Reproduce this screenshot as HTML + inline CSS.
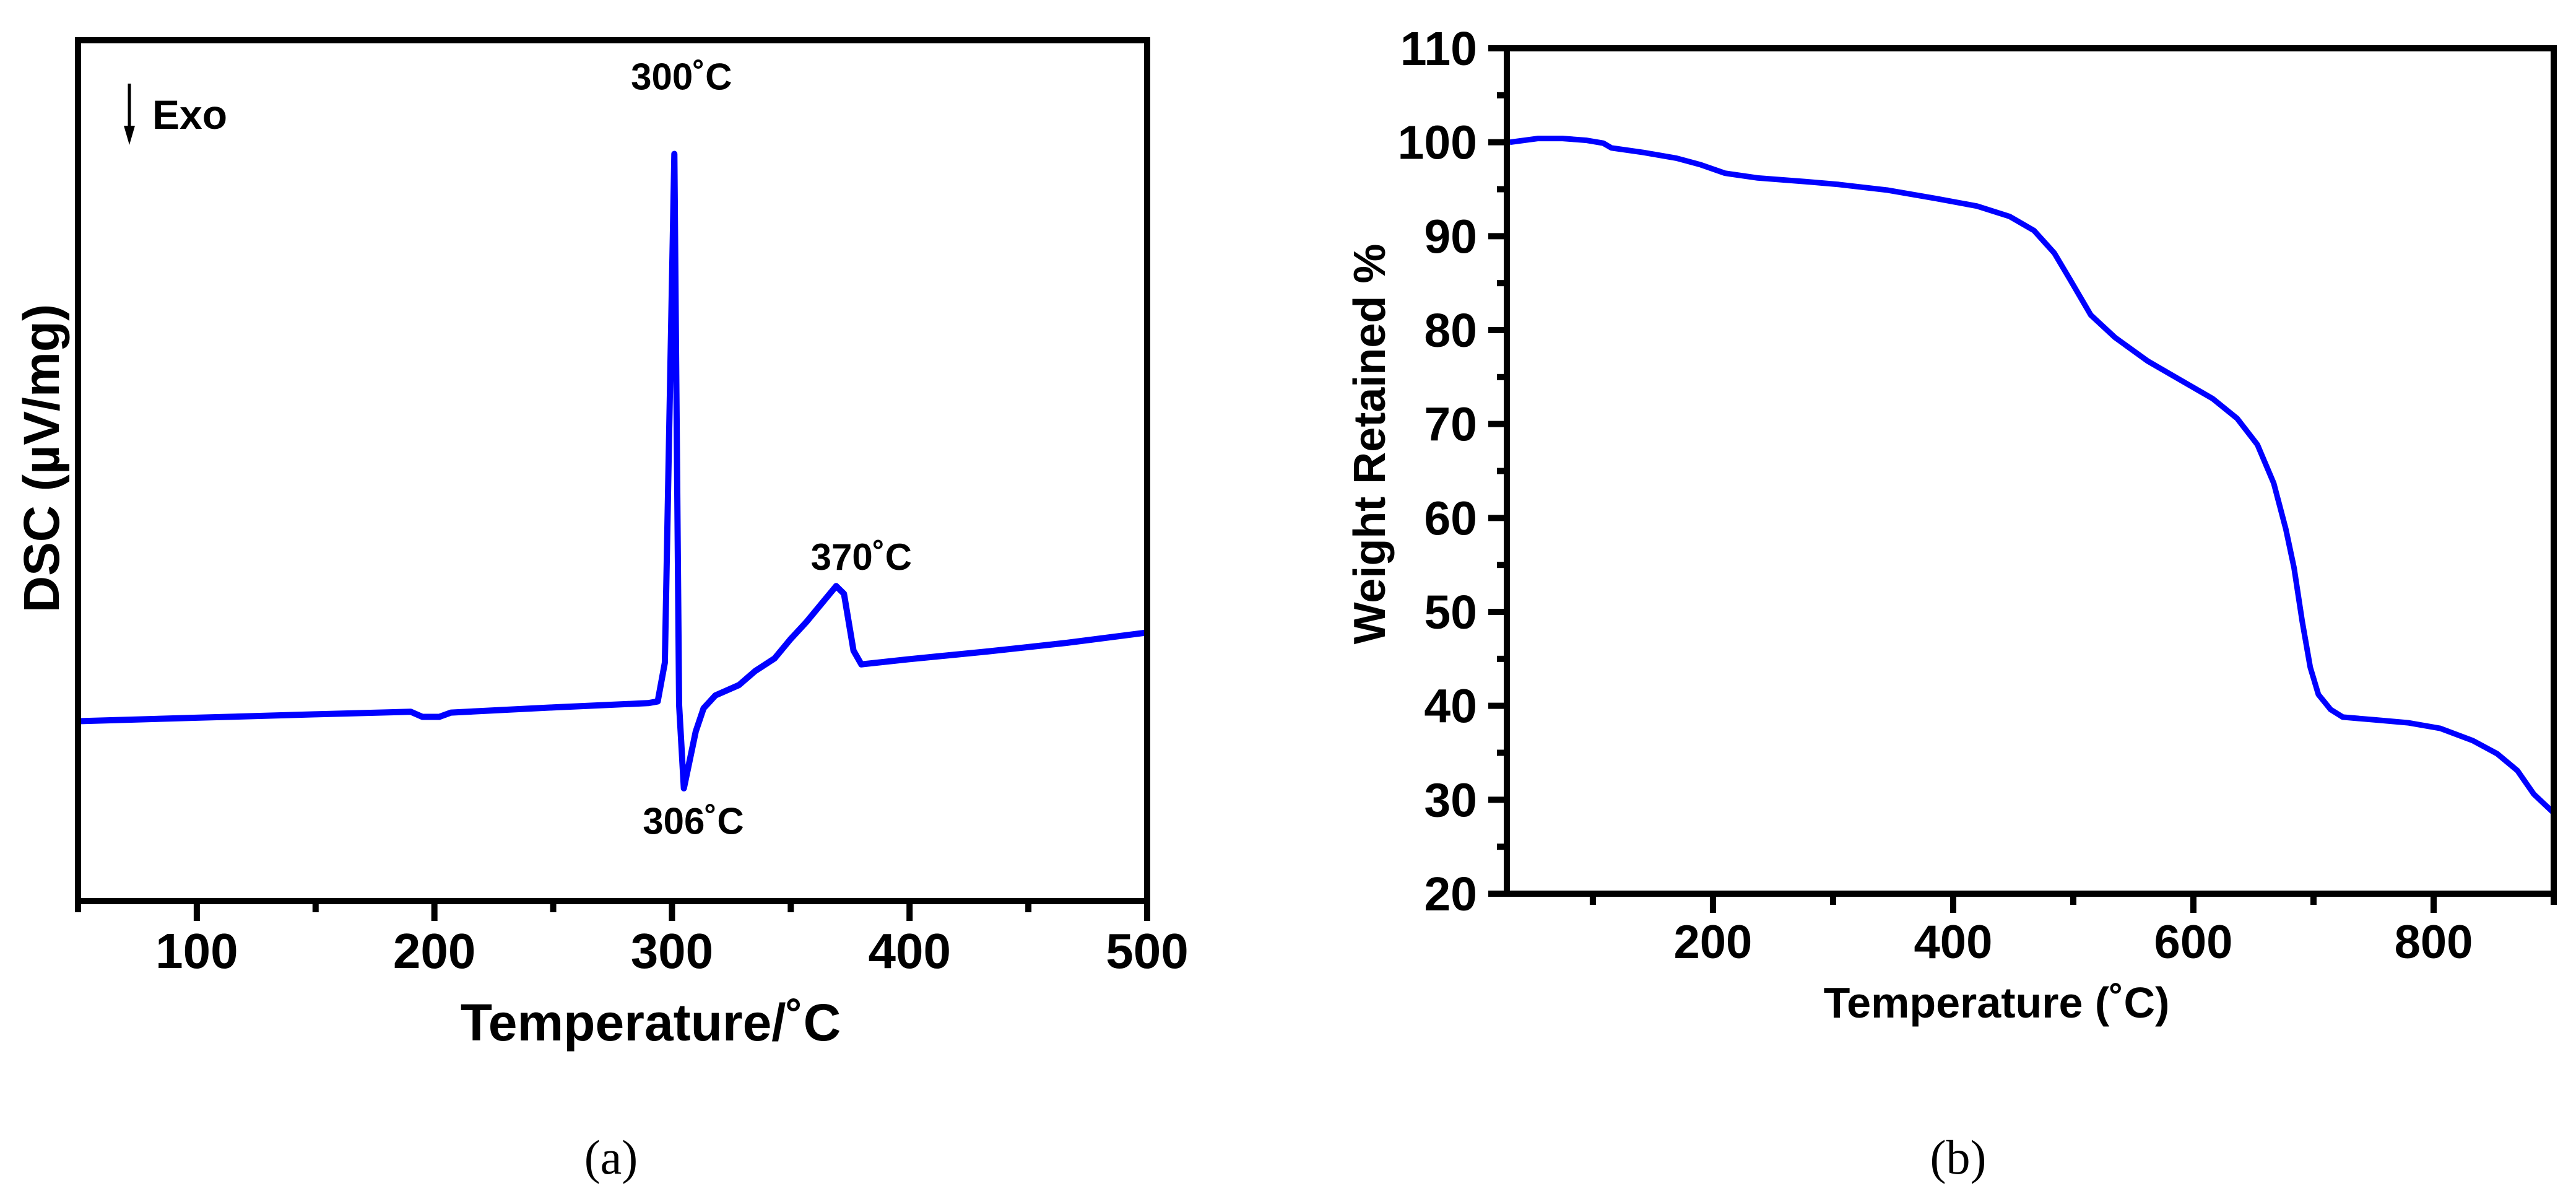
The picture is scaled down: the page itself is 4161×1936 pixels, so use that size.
<!DOCTYPE html>
<html><head><meta charset="utf-8"><style>
html,body{margin:0;padding:0;background:#fff;}
svg{display:block;font-family:"Liberation Sans",Arial,sans-serif;}
</style></head><body>
<svg id="fig" width="4161" height="1936" viewBox="0 0 4161 1936" xmlns="http://www.w3.org/2000/svg">
<rect width="4161" height="1936" fill="#fff"/>
</svg>
<script>
// Panel (a) DSC data
const dscTemps = [50,100,150,190,195,202,207,250,290,294,297,301,303,305,310,313.3,318.3,328.2,334.9,343.2,349.8,356.5,363.1,369.1,372.4,376.4,379.7,399.7,432.9,466.1,500];
const dscValues = [20.9,21.3,21.7,22.0,21.4,21.4,21.9,22.5,23.0,23.2,27.7,86.8,22.8,13.1,19.7,22.4,23.9,25.1,26.7,28.2,30.4,32.4,34.6,36.6,35.7,29.1,27.5,28.1,29.0,30.0,31.2];
const dscXTicks = [100,200,300,400,500];
const dscXMinor = [50,150,250,350,450];
const dscAnnotT = [304,309,379.7];
const dscAnnotV = [95.8,9.3,40.0];
const dscAnnotText = ["300˚C","306˚C","370˚C"];
// Panel (b) TGA data
const tgaTemps = [30.9,54.5,74.8,95,108.7,115.4,142.5,169.6,189.9,210.1,237.2,277.8,304.9,345.5,386.1,419.9,447,467.3,484.2,497.7,514.6,534.9,562,589,616.1,636.4,653.3,666.9,677,683.8,690.6,697.3,704.1,714.3,724.4,751.4,778.5,805.5,832.6,852.9,869.8,883.4,900];
const tgaValues = [100.0,100.4,100.4,100.2,99.9,99.4,98.9,98.3,97.6,96.7,96.2,95.8,95.5,94.9,94.0,93.2,92.1,90.6,88.2,85.3,81.6,79.2,76.7,74.7,72.7,70.6,67.8,63.7,58.8,54.7,49.0,44.1,41.2,39.6,38.8,38.5,38.2,37.6,36.3,34.9,33.1,30.6,28.6];
const tgaXTicks = [200,400,600,800];
const tgaXMinor = [100,300,500,700,900];
const tgaYTicks = [20,30,40,50,60,70,80,90,100,110];
const tgaYMinor = [25,35,45,55,65,75,85,95,105];

const NS="http://www.w3.org/2000/svg";
const svg=document.getElementById('fig');
function mk(tag,attrs,parent){const e=document.createElementNS(NS,tag);for(const k in attrs)e.setAttribute(k,attrs[k]);(parent||svg).appendChild(e);return e;}

// ---------- Panel a ----------
const A={l:126,r:1853,t:65,b:1455,x0:50,x1:500,y0:0,y1:100};
const ax=v=>A.l+(v-A.x0)/(A.x1-A.x0)*(A.r-A.l);
const ay=v=>A.b-(v-A.y0)/(A.y1-A.y0)*(A.b-A.t);
const ga=mk('g',{});


const dscLine=mk('polyline',{points:dscTemps.map((t,i)=>ax(t)+','+ay(dscValues[i])).join(' '),fill:'none',stroke:'#0000ff','stroke-width':10,'stroke-linejoin':'round'},ga);


const frameA=mk('rect',{x:A.l,y:A.t,width:A.r-A.l,height:A.b-A.t,fill:'none',stroke:'#000','stroke-width':10},ga);


dscXTicks.forEach(t=>{
  const tk=mk('line',{x1:ax(t),x2:ax(t),y1:A.b,y2:A.b+32,stroke:'#000','stroke-width':10},ga);
  
  
  const lb=mk('text',{x:ax(t),y:A.b+108,'font-size':80,'font-weight':'bold','text-anchor':'middle'},ga);
  lb.textContent=t;
  
  
});
dscXMinor.forEach(t=>{
  const tk=mk('line',{x1:ax(t),x2:ax(t),y1:A.b,y2:A.b+18,stroke:'#000','stroke-width':10},ga);
  
  
});
dscAnnotT.forEach((t,i)=>{
  const lb=mk('text',{x:ax(t),y:ay(dscAnnotV[i])+21,'font-size':60,'font-weight':'bold','text-anchor':'middle'},ga);
  lb.textContent=dscAnnotText[i];
  
  
});
const xtA=mk('text',{x:1051,y:1680,'font-size':84,'font-weight':'bold','text-anchor':'middle'},ga);
xtA.textContent='Temperature/˚C';


const ytA=mk('text',{x:0,y:0,'font-size':82,'font-weight':'bold','text-anchor':'middle',transform:'translate(95,740) rotate(-90)'},ga);
ytA.textContent='DSC (µV/mg)';


const arr=mk('g',{},ga);


mk('line',{x1:209,x2:209,y1:135,y2:212,stroke:'#000','stroke-width':5},arr);
mk('polygon',{points:'200,203 218,203 209,234',fill:'#000'},arr);
const exo=mk('text',{x:246,y:208,'font-size':66,'font-weight':'bold'},ga);
exo.textContent='Exo';


const capA=mk('text',{x:987,y:1895,'font-size':78,'font-family':'"Liberation Serif",serif','text-anchor':'middle'});
capA.textContent='(a)';



// ---------- Panel b ----------
const B={l:2434,r:4125,t:78,b:1443,x0:28.4,x1:900,y0:20,y1:110};
const bx=v=>B.l+(v-B.x0)/(B.x1-B.x0)*(B.r-B.l);
const by=v=>B.b-(v-B.y0)/(B.y1-B.y0)*(B.b-B.t);
const gb=mk('g',{});


const tgaLine=mk('polyline',{points:tgaTemps.map((t,i)=>bx(t)+','+by(tgaValues[i])).join(' '),fill:'none',stroke:'#0000ff','stroke-width':9,'stroke-linejoin':'round'},gb);


const frameB=mk('rect',{x:B.l,y:B.t,width:B.r-B.l,height:B.b-B.t,fill:'none',stroke:'#000','stroke-width':10},gb);


tgaXTicks.forEach(t=>{
  const tk=mk('line',{x1:bx(t),x2:bx(t),y1:B.b,y2:B.b+31,stroke:'#000','stroke-width':10},gb);
  
  
  const lb=mk('text',{x:bx(t),y:B.b+104,'font-size':76,'font-weight':'bold','text-anchor':'middle'},gb);
  lb.textContent=t;
  
  
});
tgaXMinor.forEach(t=>{
  const tk=mk('line',{x1:bx(t),x2:bx(t),y1:B.b,y2:B.b+18,stroke:'#000','stroke-width':10},gb);
  
  
});
tgaYTicks.forEach(v=>{
  const tk=mk('line',{x1:B.l-30,x2:B.l,y1:by(v),y2:by(v),stroke:'#000','stroke-width':10},gb);
  
  
  const lb=mk('text',{x:2386,y:by(v)+27,'font-size':77,'font-weight':'bold','text-anchor':'end'},gb);
  lb.textContent=v;
  
  
});
tgaYMinor.forEach(v=>{
  const tk=mk('line',{x1:B.l-16,x2:B.l,y1:by(v),y2:by(v),stroke:'#000','stroke-width':10},gb);
  
  
});
const xtB=mk('text',{x:3225,y:1643,'font-size':70,'font-weight':'bold','text-anchor':'middle'},gb);
xtB.textContent='Temperature (˚C)';


const ytB=mk('text',{x:0,y:0,'font-size':72,'font-weight':'bold','text-anchor':'middle',transform:'translate(2237,717) rotate(-90)'},gb);
ytB.textContent='Weight Retained %';


const capB=mk('text',{x:3163,y:1895,'font-size':78,'font-family':'"Liberation Serif",serif','text-anchor':'middle'});
capB.textContent='(b)';


</script>
</body></html>
